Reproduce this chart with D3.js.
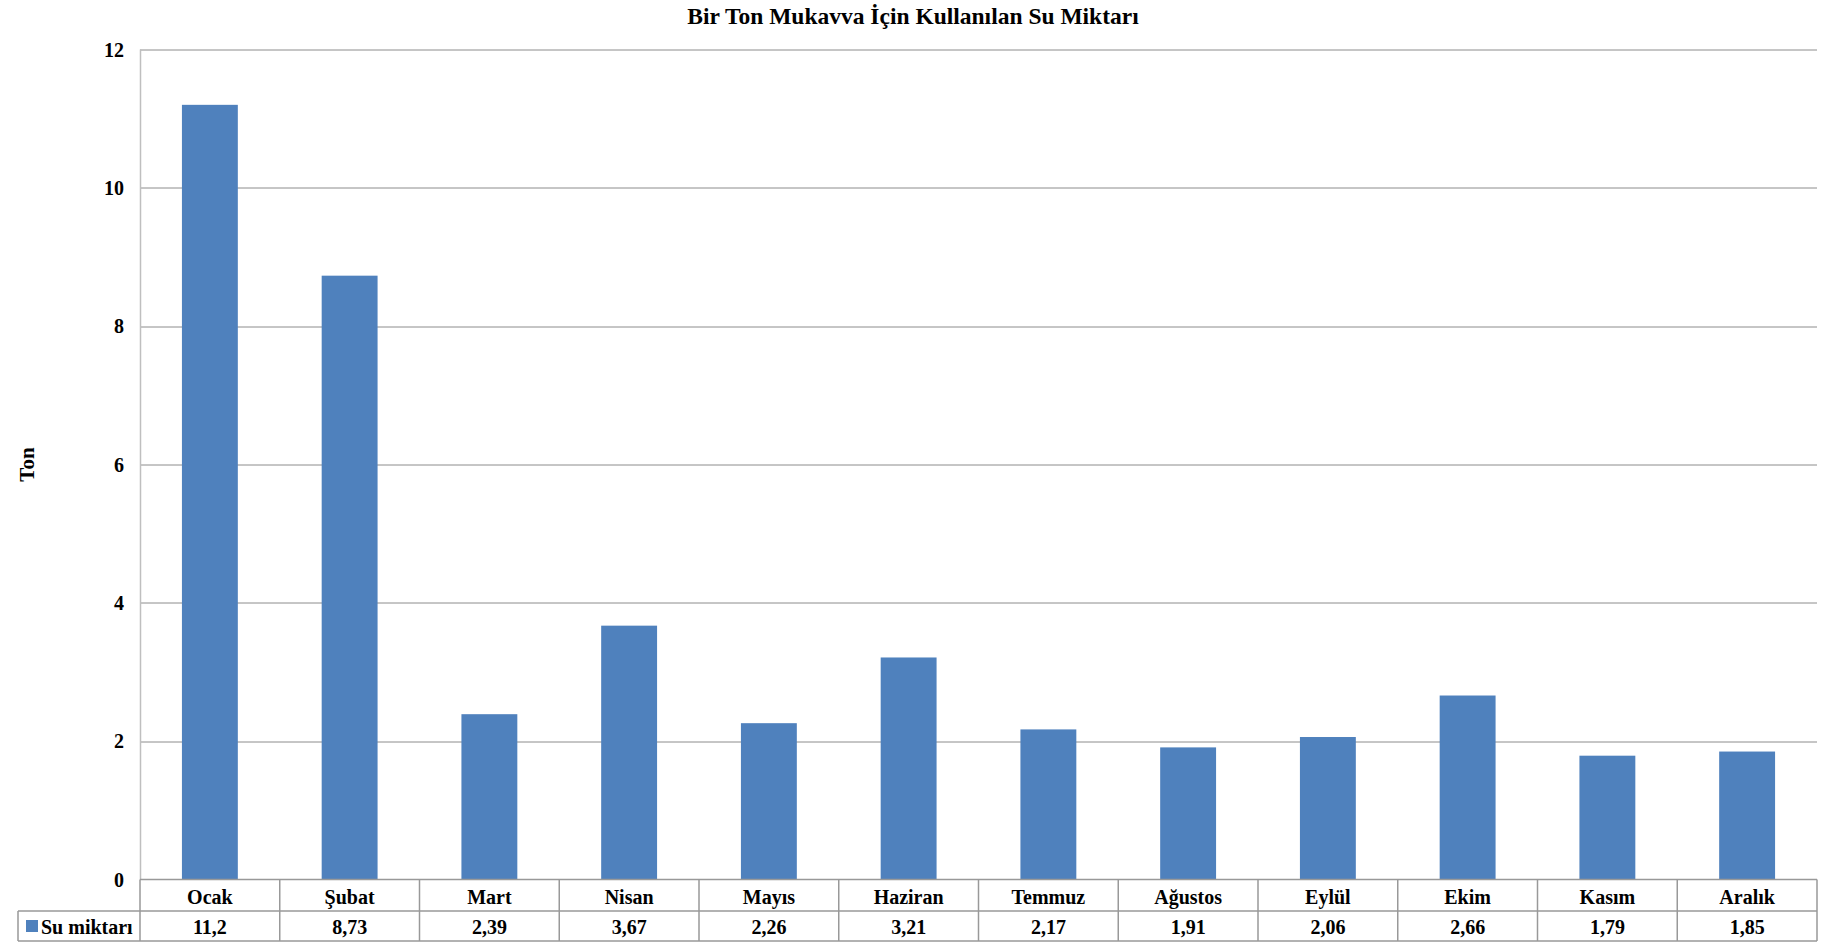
<!DOCTYPE html>
<html>
<head>
<meta charset="utf-8">
<script src="https://cdn.jsdelivr.net/npm/d3@7"></script>
<style>
  body { margin: 0; background: #fff; }
  text { font-family: "Liberation Serif", "Times New Roman", serif; font-weight: bold; fill: #000; }
</style>
</head>
<body>
<svg id="chart" width="1825" height="947"></svg>
<script>
// Data
const months = ["Ocak", "Şubat", "Mart", "Nisan", "Mayıs", "Haziran", "Temmuz", "Ağustos", "Eylül", "Ekim", "Kasım", "Aralık"];
const waterValues = [11.2, 8.73, 2.39, 3.67, 2.26, 3.21, 2.17, 1.91, 2.06, 2.66, 1.79, 1.85];
const valueLabels = ["11,2", "8,73", "2,39", "3,67", "2,26", "3,21", "2,17", "1,91", "2,06", "2,66", "1,79", "1,85"];
const yTicks = [0, 2, 4, 6, 8, 10, 12];
const seriesName = "Su miktarı";
const chartTitle = "Bir Ton Mukavva İçin Kullanılan Su Miktarı";
const yTitle = "Ton";

const margin = { top: 49.5, left: 140, right: 8, bottom: 67.5 };
const width = 1825 - margin.left - margin.right;
const height = 947 - margin.top - margin.bottom;
const rowH = [31.5, 30];

const svg = d3.select("#chart");
const chart = svg.append("g")
  .attr("transform", `translate(${margin.left},${margin.top})`);

const xScale = d3.scaleBand()
  .domain(months)
  .range([0, width])
  .paddingInner(0.6)
  .paddingOuter(0.3);

const xBand = d3.scaleBand().domain(months).range([0, width]);

const yScale = d3.scaleLinear()
  .domain([0, 12])
  .range([height, 0]);

// Gridlines
chart.selectAll("line.grid")
  .data(yTicks.filter(d => d > 0))
  .join("line")
    .attr("class", "grid")
    .attr("x1", 0).attr("x2", width)
    .attr("y1", d => Math.round(yScale(d)) + 0.5)
    .attr("y2", d => Math.round(yScale(d)) + 0.5)
    .attr("stroke", "#8c8c8c")
    .attr("stroke-width", 1);

// Y axis labels
chart.selectAll("text.ytick")
  .data(yTicks)
  .join("text")
    .attr("class", "ytick")
    .attr("x", -16)
    .attr("y", d => yScale(d))
    .attr("dy", "0.35em")
    .attr("text-anchor", "end")
    .attr("font-size", 20)
    .text(d => d);

// Bars
chart.selectAll("rect.bar")
  .data(waterValues)
  .join("rect")
    .attr("class", "bar")
    .attr("x", (d, i) => xScale(months[i]))
    .attr("width", xScale.bandwidth())
    .attr("y", d => yScale(d))
    .attr("height", d => height - yScale(d))
    .attr("fill", "#4f81bd");

// Y axis line
chart.append("line")
  .attr("x1", 0.5).attr("x2", 0.5)
  .attr("y1", 0).attr("y2", height)
  .attr("stroke", "#bfbfbf")
  .attr("stroke-width", 1.5);

// Data table under the plot
const table = chart.append("g")
  .attr("transform", `translate(0,${height})`);
const tableColor = "#999999";
const legendLeft = 18 - margin.left;

// Horizontal table lines
table.append("line")
  .attr("x1", 0).attr("x2", width)
  .attr("y1", 0).attr("y2", 0)
  .attr("stroke", tableColor).attr("stroke-width", 1.5);
table.append("line")
  .attr("x1", legendLeft).attr("x2", width)
  .attr("y1", rowH[0]).attr("y2", rowH[0])
  .attr("stroke", tableColor).attr("stroke-width", 1.5);
table.append("line")
  .attr("x1", legendLeft).attr("x2", width)
  .attr("y1", rowH[0] + rowH[1]).attr("y2", rowH[0] + rowH[1])
  .attr("stroke", tableColor).attr("stroke-width", 1.5);

// Vertical table lines
const vLines = months.map(m => xBand(m)).concat([width]);
table.selectAll("line.vcell")
  .data(vLines)
  .join("line")
    .attr("class", "vcell")
    .attr("x1", d => d).attr("x2", d => d)
    .attr("y1", 0).attr("y2", rowH[0] + rowH[1])
    .attr("stroke", tableColor).attr("stroke-width", 1.5);
table.append("line")
  .attr("x1", legendLeft).attr("x2", legendLeft)
  .attr("y1", rowH[0]).attr("y2", rowH[0] + rowH[1])
  .attr("stroke", tableColor).attr("stroke-width", 1.5);

// Category labels
table.selectAll("text.cat")
  .data(months)
  .join("text")
    .attr("class", "cat")
    .attr("x", d => xBand(d) + xBand.bandwidth() / 2)
    .attr("y", rowH[0] / 2 + 2)
    .attr("dy", "0.35em")
    .attr("text-anchor", "middle")
    .attr("font-size", 20)
    .text(d => d);

// Value labels
table.selectAll("text.val")
  .data(valueLabels)
  .join("text")
    .attr("class", "val")
    .attr("x", (d, i) => xBand(months[i]) + xBand.bandwidth() / 2)
    .attr("y", rowH[0] + rowH[1] / 2 + 1)
    .attr("dy", "0.35em")
    .attr("text-anchor", "middle")
    .attr("font-size", 20)
    .text(d => d);

// Legend key in the table
table.append("rect")
  .attr("x", 26 - margin.left)
  .attr("y", rowH[0] + 9)
  .attr("width", 12).attr("height", 12)
  .attr("fill", "#4f81bd");
table.append("text")
  .attr("x", 41 - margin.left)
  .attr("y", rowH[0] + rowH[1] / 2 + 1)
  .attr("dy", "0.35em")
  .attr("font-size", 20)
  .text(seriesName);

// Title
svg.append("text")
  .attr("x", 913)
  .attr("y", 24)
  .attr("text-anchor", "middle")
  .attr("font-size", 23.5)
  .text(chartTitle);

// Y axis title
svg.append("text")
  .attr("transform", `translate(34,${margin.top + yScale(6)}) rotate(-90)`)
  .attr("text-anchor", "middle")
  .attr("font-size", 21)
  .text(yTitle);
</script>
</body>
</html>
